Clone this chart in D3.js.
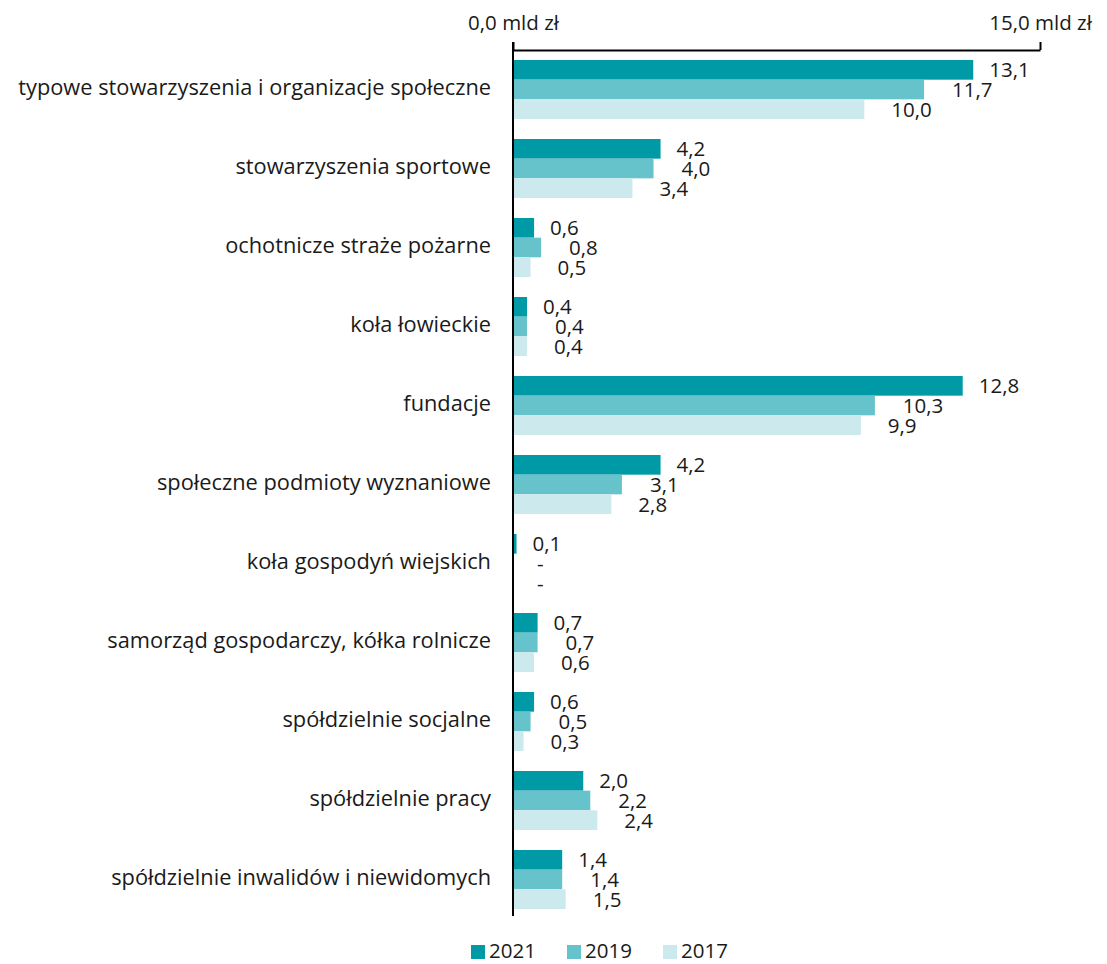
<!DOCTYPE html>
<html>
<head>
<meta charset="utf-8">
<script src="https://cdn.jsdelivr.net/npm/d3@7"></script>
<style>
body { margin: 0; background: #fff; }
text { font-family: "Open Sans", sans-serif; fill: #1a1a1a; }
</style>
</head>
<body>
<div class="container"></div>
<script>
// categories, top to bottom
var categories = [
	"typowe stowarzyszenia i organizacje społeczne",
	"stowarzyszenia sportowe",
	"ochotnicze straże pożarne",
	"koła łowieckie",
	"fundacje",
	"społeczne podmioty wyznaniowe",
	"koła gospodyń wiejskich",
	"samorząd gospodarczy, kółka rolnicze",
	"spółdzielnie socjalne",
	"spółdzielnie pracy",
	"spółdzielnie inwalidów i niewidomych"
];

var years = ["2021", "2019", "2017"];

// mld zł, null = brak danych ("-")
var values2021 = [13.1, 4.2, 0.6, 0.4, 12.8, 4.2, 0.1, 0.7, 0.6, 2.0, 1.4];
var values2019 = [11.7, 4.0, 0.8, 0.4, 10.3, 3.1, null, 0.7, 0.5, 2.2, 1.4];
var values2017 = [10.0, 3.4, 0.5, 0.4, 9.9, 2.8, null, 0.6, 0.3, 2.4, 1.5];

var axisTicks = [0, 15];

var colors = ["#0099a6", "#66c3cb", "#cceaed"];
var labelShift = [16, 28, 27];
var fs = '21.8px';
var fsVal = '20.5px';

var width = 1107, height = 964;
var svg = d3.select('.container').append('svg')
	.attr('width', width)
	.attr('height', height);

var x = d3.scaleLinear().domain([0, 15]).range([513, 1040]);
var y = d3.scaleBand().domain(categories).range([50, 919]).paddingInner(20 / 79).paddingOuter(10 / 79);
var ySub = d3.scaleBand().domain(years).range([0, y.bandwidth()]);

var fmt = function(v){
	if (v === null) return "-";
	return d3.format(".1f")(v).replace(".", ",");
};

var series = [values2021, values2019, values2017];

// bars
series.forEach(function(vals, s){
	var g = svg.append('g');
	g.selectAll('rect').data(vals).enter().append('rect')
		.attr('x', x(0))
		.attr('y', function(d, i){ return y(categories[i]) + ySub(years[s]); })
		.attr('width', function(d){ return d === null ? 0 : x(d) - x(0); })
		.attr('height', ySub.bandwidth())
		.style('fill', colors[s]);

	g.selectAll('text').data(vals).enter().append('text')
		.attr('x', function(d){ return d === null ? x(0) + 24 : x(d) + labelShift[s]; })
		.attr('y', function(d, i){ return y(categories[i]) + ySub(years[s]) + ySub.bandwidth() / 2 + 2; })
		.attr('dominant-baseline', 'middle')
		.style('font-size', fsVal)
		.text(fmt);
});

// category labels
svg.append('g').selectAll('text').data(categories).enter().append('text')
	.attr('x', 491)
	.attr('y', function(d){ return y(d) + y.bandwidth() / 2; })
	.attr('dominant-baseline', 'middle')
	.attr('text-anchor', 'end')
	.style('font-size', fs)
	.text(function(d){ return d; });

// top axis
var axis = d3.axisTop(x)
	.tickValues(axisTicks)
	.tickSize(8)
	.tickSizeOuter(0)
	.tickPadding(12)
	.tickFormat(function(d){ return fmt(d) + " mld zł"; });

var ax = svg.append('g').attr('transform', 'translate(0,50)').call(axis);
ax.selectAll('path, line').style('stroke', '#000').style('stroke-width', 2);
ax.selectAll('text').style('font-size', fsVal).style('font-family', '"Open Sans", sans-serif').style('fill', '#1a1a1a');

svg.append('line')
	.attr('x1', x(0)).attr('x2', x(0))
	.attr('y1', 42).attr('y2', 916)
	.style('stroke', '#000')
	.style('stroke-width', 2);

// legend
var legend = svg.append('g').selectAll('g').data(years).enter().append('g')
	.attr('transform', function(d, i){ return 'translate(' + (471 + i * 96) + ',945)'; });
legend.append('rect')
	.attr('width', 14).attr('height', 14)
	.style('fill', function(d, i){ return colors[i]; });
legend.append('text')
	.attr('x', 18).attr('y', 8)
	.attr('dominant-baseline', 'middle')
	.style('font-size', fsVal)
	.text(function(d){ return d; });
</script>
</body>
</html>
